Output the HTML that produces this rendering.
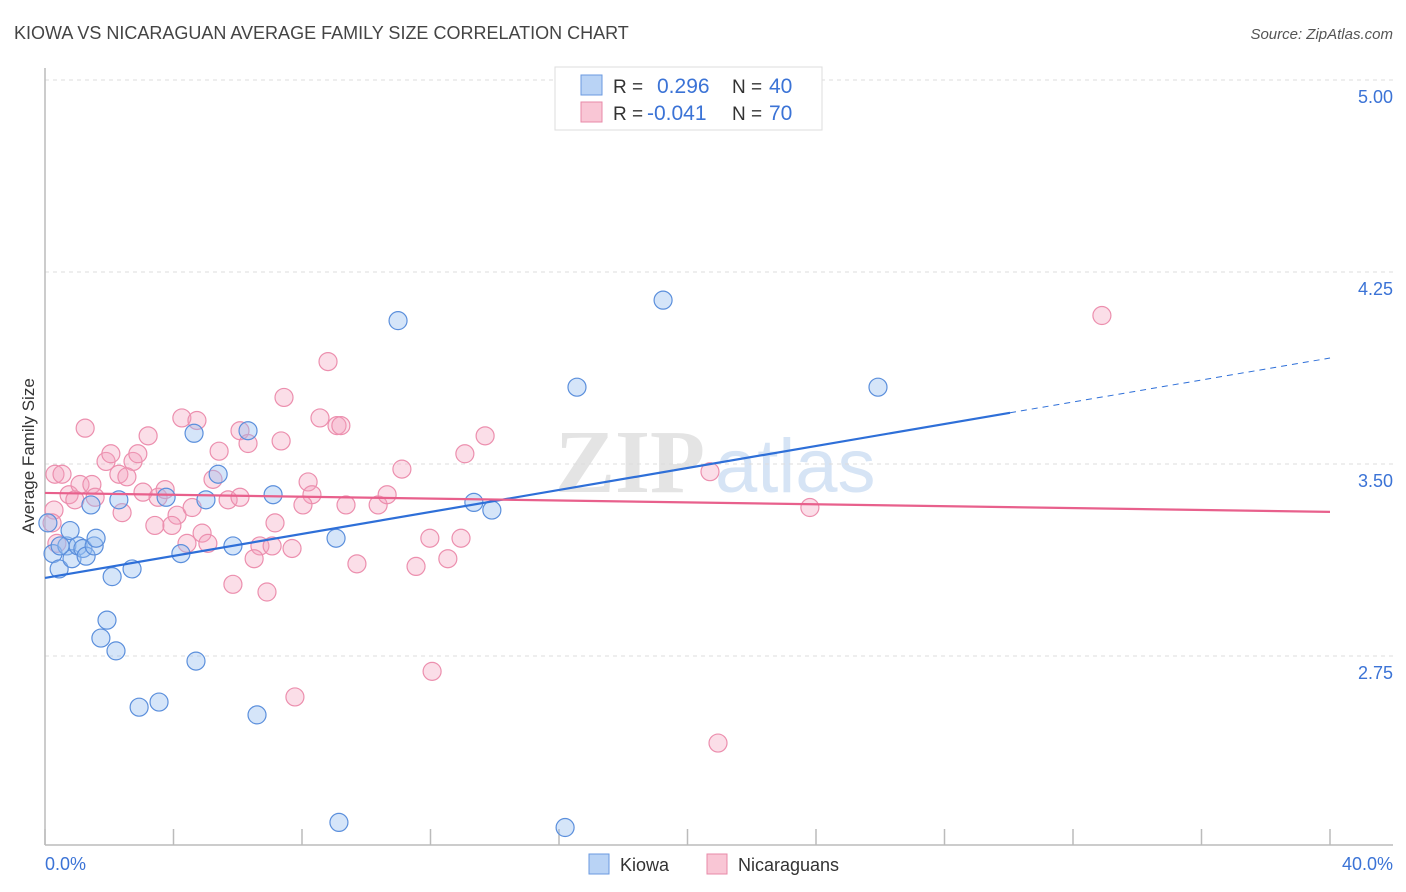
<!DOCTYPE html>
<html><head><meta charset="utf-8"><style>
body{margin:0;background:#fff;font-family:"Liberation Sans",sans-serif;}
svg{display:block}
</style></head><body>
<svg id="chart" width="1406" height="892" viewBox="0 0 1406 892">
<text x="14" y="39" font-size="18" fill="#444">KIOWA VS NICARAGUAN AVERAGE FAMILY SIZE CORRELATION CHART</text>
<text x="1393" y="39" font-size="15" fill="#555" font-style="italic" text-anchor="end">Source: ZipAtlas.com</text>
<g>
<text x="555" y="492" font-size="90" fill="#e4e4e4" font-family="Liberation Serif" font-weight="bold">ZIP</text>
<text x="715" y="492" font-size="76" fill="#d6e4f5">atlas</text>
</g>
<g id="grid"></g>
<g id="axes"></g>
<g id="marks"></g>
<g id="trends"></g>
<text transform="translate(34,456) rotate(-90)" font-size="17" fill="#333" text-anchor="middle">Average Family Size</text>
<g>
<rect x="555" y="67" width="267" height="63" fill="#fff" stroke="#ddd"/>
<rect x="581" y="75" width="21" height="20" fill="#b9d3f5" stroke="#6a9ae0"/>
<rect x="581" y="102" width="21" height="20" fill="#f9c6d5" stroke="#e88aa8"/>
<text x="613" y="93" font-size="19" fill="#333">R =</text>
<text x="657" y="93" font-size="21" fill="#3b73d6">0.296</text>
<text x="732" y="93" font-size="19" fill="#333">N =</text>
<text x="769" y="93" font-size="21" fill="#3b73d6">40</text>
<text x="613" y="120" font-size="19" fill="#333">R =</text>
<text x="647" y="120" font-size="21" fill="#3b73d6">-0.041</text>
<text x="732" y="120" font-size="19" fill="#333">N =</text>
<text x="769" y="120" font-size="21" fill="#3b73d6">70</text>
</g>
<g>
<g><rect x="589" y="854" width="20" height="20" fill="#b9d3f5" stroke="#6a9ae0"/><text x="620" y="871" font-size="18" fill="#333">Kiowa</text></g>
<g><rect x="707" y="854" width="20" height="20" fill="#f9c6d5" stroke="#e88aa8"/><text x="738" y="871" font-size="18" fill="#333">Nicaraguans</text></g>
</g>
</svg>
<script>
const yTicks=[2.75,3.5,4.25,5.0];
const yTickLabels=["2.75","3.50","4.25","5.00"];
const xTicks=[0,4,8,12,16,20,24,28,32,36,40];
const kiowaX=[0.09,0.25,0.44,0.68,0.78,0.84,1.03,1.18,1.28,1.43,1.53,1.59,1.74,1.93,2.09,2.21,2.30,2.71,2.93,3.55,3.77,4.23,4.64,4.70,5.01,5.39,5.85,6.32,6.60,7.10,9.06,9.15,10.99,13.35,13.91,16.19,16.56,19.24,25.93,0.47];
const kiowaY=[3.27,3.15,3.09,3.18,3.24,3.13,3.18,3.17,3.14,3.34,3.18,3.21,2.82,2.89,3.06,2.77,3.36,3.09,2.55,2.57,3.37,3.15,3.62,2.73,3.36,3.46,3.18,3.63,2.52,3.38,3.21,2.10,4.06,3.35,3.32,2.08,3.80,4.14,3.80,3.18];
const nicX=[1.25,4.26,4.73,3.21,5.42,6.07,6.32,7.35,8.56,9.09,8.81,7.44,9.21,0.31,0.53,1.90,2.05,2.74,2.89,2.30,2.55,0.75,1.09,1.46,1.56,0.93,0.28,0.22,0.37,2.40,3.05,3.52,3.74,4.11,3.95,3.42,4.58,4.42,4.89,5.07,5.23,5.70,6.07,7.16,6.69,7.07,6.51,7.69,5.85,6.91,8.19,8.31,8.03,7.78,13.70,13.07,11.11,9.37,10.37,10.65,11.98,12.95,12.54,11.55,9.71,20.70,32.90,23.81,20.95,12.05];
const nicY=[3.64,3.68,3.67,3.61,3.55,3.63,3.58,3.59,3.68,3.65,3.90,3.76,3.65,3.46,3.46,3.51,3.54,3.51,3.54,3.46,3.45,3.38,3.42,3.42,3.37,3.36,3.32,3.27,3.19,3.31,3.39,3.37,3.40,3.30,3.26,3.26,3.33,3.19,3.23,3.19,3.44,3.36,3.37,3.27,3.18,3.18,3.13,3.17,3.03,3.00,3.43,3.38,3.34,2.59,3.61,3.54,3.48,3.34,3.34,3.38,3.21,3.21,3.13,3.10,3.11,3.47,4.08,3.33,2.41,2.69];
const kiowaTrend=[3.055,3.914];
const nicTrend=[3.387,3.313];
const kiowaSolidEnd=30.04;

const NS="http://www.w3.org/2000/svg";
const X0=45,X1=1330,Y0=80;
const sx=v=>X0+(X1-X0)*v/40;
const sy=v=>Y0+(5-v)*256;
function mk(tag,attrs,parent){const e=document.createElementNS(NS,tag);for(const k in attrs)e.setAttribute(k,attrs[k]);parent.appendChild(e);return e;}
const grid=document.getElementById('grid'),axes=document.getElementById('axes'),marks=document.getElementById('marks'),trends=document.getElementById('trends');
yTicks.forEach((t,i)=>{
  const l=mk('line',{x1:45,x2:1393,y1:sy(t),y2:sy(t),stroke:'#ddd','stroke-dasharray':'4,4'},grid);
  
  
  const tx=mk('text',{x:1393,y:sy(t)+23,'font-size':18,fill:'#3b73d6','text-anchor':'end'},axes);
  tx.textContent=yTickLabels[i];
  
  
});
const ya=mk('line',{x1:45,x2:45,y1:68,y2:845,stroke:'#bbb','stroke-width':1.5},axes);


const xa=mk('line',{x1:45,x2:1393,y1:845,y2:845,stroke:'#bbb','stroke-width':1.5},axes);


xTicks.forEach(t=>{
  const l=mk('line',{x1:sx(t),x2:sx(t),y1:829,y2:845,stroke:'#bbb','stroke-width':1.5},axes);
  
  
});
const xl0=mk('text',{x:45,y:870,'font-size':18,fill:'#3b73d6'},axes);
xl0.textContent=xTicks[0].toFixed(1)+'%';


const xl1=mk('text',{x:1393,y:870,'font-size':18,fill:'#3b73d6','text-anchor':'end'},axes);
xl1.textContent=xTicks[xTicks.length-1].toFixed(1)+'%';


nicX.forEach((v,i)=>{
  const c=mk('circle',{cx:sx(v),cy:sy(nicY[i]),r:9,fill:'rgba(244,160,188,0.35)',stroke:'#ec8fae','stroke-width':1.2},marks);
  
  
});
kiowaX.forEach((v,i)=>{
  const c=mk('circle',{cx:sx(v),cy:sy(kiowaY[i]),r:9,fill:'rgba(150,190,240,0.4)',stroke:'#5b8fdc','stroke-width':1.2},marks);
  
  
});
const kAt=x=>kiowaTrend[0]+(kiowaTrend[1]-kiowaTrend[0])*x/40;
const t1=mk('line',{x1:sx(0),y1:sy(kAt(0)),x2:sx(kiowaSolidEnd),y2:sy(kAt(kiowaSolidEnd)),stroke:'#2e6fd8','stroke-width':2.2},trends);


const t2=mk('line',{x1:sx(kiowaSolidEnd),y1:sy(kAt(kiowaSolidEnd)),x2:sx(40),y2:sy(kAt(40)),stroke:'#2e6fd8','stroke-width':1,'stroke-dasharray':'6,5'},trends);


const t3=mk('line',{x1:sx(0),y1:sy(nicTrend[0]),x2:sx(40),y2:sy(nicTrend[1]),stroke:'#e8608c','stroke-width':2.2},trends);


</script>
</body></html>
